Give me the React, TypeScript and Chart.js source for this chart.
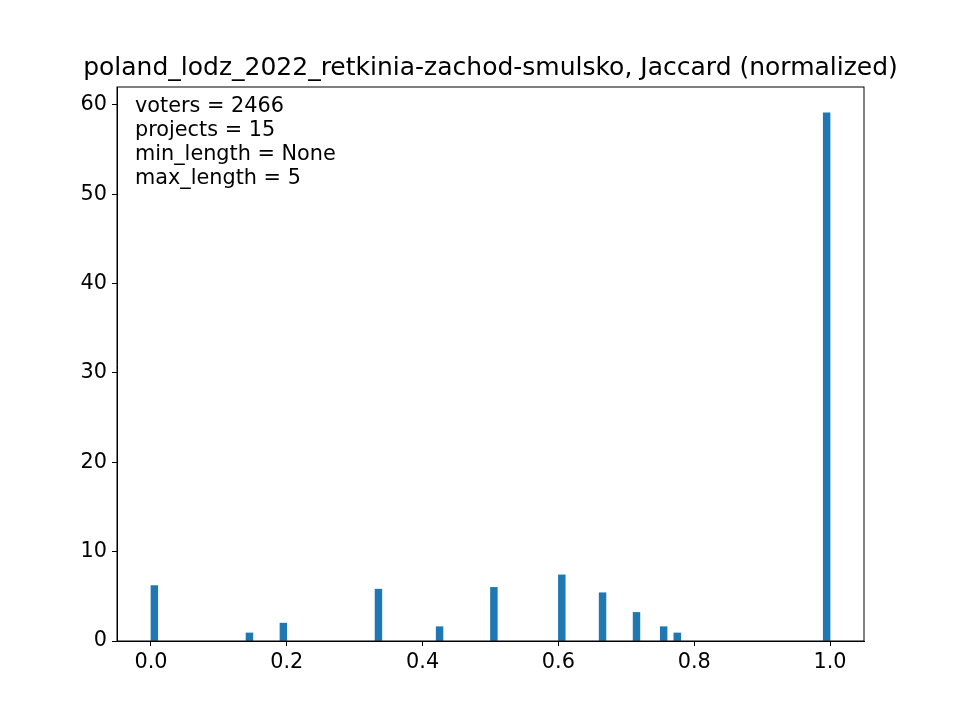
import React, { useEffect, useRef } from 'react';
import { Chart, registerables } from 'chart.js';

Chart.register(...registerables);

const BIN_COUNT = 100;
const nonZeroBins = [0, 14, 19, 33, 42, 50, 60, 66, 71, 75, 77, 99];
const nonZeroHeights = [6.2, 0.9, 2.0, 5.8, 1.6, 6.0, 7.4, 5.4, 3.2, 1.6, 0.9, 59.1];
const infoLines = ['voters = 2466', 'projects = 15', 'min_length = None', 'max_length = 5'];
const titleText = 'poland_lodz_2022_retkinia-zachod-smulsko, Jaccard (normalized)';

const FONT = '"DejaVu Sans", sans-serif';

const App: React.FC = () => {
  const chartRef = useRef<HTMLCanvasElement | null>(null);
  const chartInstance = useRef<Chart | null>(null);

  useEffect(() => {
    document.body.style.margin = '0';
    const ctx = chartRef.current?.getContext('2d');
    if (!ctx) return;

    const points = [];
    for (let i = 0; i < BIN_COUNT; i++) {
      const k = nonZeroBins.indexOf(i);
      points.push({ x: (i + 0.5) / BIN_COUNT, y: k >= 0 ? nonZeroHeights[k] : null });
    }

    const textPlugin = {
      id: 'texts',
      afterDraw(chart: Chart) {
        const c = chart.ctx;
        const a = chart.chartArea;
        c.save();
        c.fillStyle = '#000';
        c.font = `25px ${FONT}`;
        c.textAlign = 'center';
        c.textBaseline = 'alphabetic';
        c.fillText(titleText, (a.left + a.right) / 2, 75);
        c.font = `20.8px ${FONT}`;
        c.textAlign = 'left';
        infoLines.forEach((t, i) => c.fillText(t, 135, 112 + i * 24));
        c.strokeStyle = '#000';
        c.lineWidth = 1;
        c.strokeRect(a.left, a.top, a.right - a.left, a.bottom - a.top);
        c.restore();
      },
    };

    chartInstance.current = new Chart(ctx, {
      type: 'bar',
      data: {
        datasets: [
          {
            data: points as any,
            backgroundColor: '#1f77b4',
            borderWidth: 0,
            barPercentage: 1,
            categoryPercentage: 1,
          },
        ],
      },
      options: {
        animation: false,
        responsive: false,
        layout: { padding: { top: 87, right: 96, left: 0, bottom: 0 } },
        plugins: { legend: { display: false }, tooltip: { enabled: false } },
        scales: {
          x: {
            type: 'linear',
            offset: false,
            min: -0.05,
            max: 1.05,
            afterBuildTicks: (s: any) => {
              s.ticks = [0, 0.2, 0.4, 0.6, 0.8, 1.0].map((v) => ({ value: v }));
            },
            afterFit: (s: any) => {
              s.height = 79;
            },
            grid: { drawOnChartArea: false, offset: false, tickLength: 5, color: '#000' },
            border: { color: '#000' },
            ticks: {
              color: '#000',
              padding: 4,
              font: { family: FONT, size: 20.8 },
              maxRotation: 0,
              callback: (v: any) => Number(v).toFixed(1),
            },
          },
          y: {
            min: 0,
            max: 62,
            afterBuildTicks: (s: any) => {
              s.ticks = [0, 10, 20, 30, 40, 50, 60].map((v) => ({ value: v }));
            },
            afterFit: (s: any) => {
              s.width = 117;
            },
            grid: { drawOnChartArea: false, tickLength: 5, color: '#000' },
            border: { color: '#000' },
            ticks: { color: '#000', padding: 5, font: { family: FONT, size: 20.8 } },
          },
        },
      },
      plugins: [textPlugin],
    });

    return () => {
      chartInstance.current?.destroy();
    };
  }, []);

  return <canvas ref={chartRef} width={960} height={720} style={{ display: 'block' }} />;
};

export default App;
